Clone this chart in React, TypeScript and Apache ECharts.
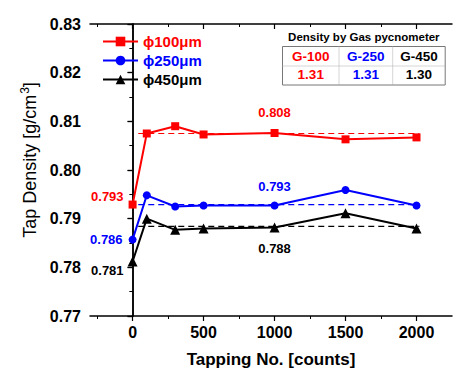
import React, { useEffect, useRef } from "react";
import * as echarts from "echarts";

const FONT = "'Liberation Sans', Arial, sans-serif";

const tapCounts = [0, 100, 300, 500, 1000, 1500, 2000];
const d100 = [0.7929, 0.8075, 0.809, 0.8073, 0.8076, 0.8063, 0.8067];
const d250 = [0.7857, 0.7948, 0.7925, 0.7927, 0.7927, 0.7959, 0.7927];
const d450 = [0.7812, 0.79, 0.7877, 0.788, 0.7882, 0.7911, 0.788];
const seriesNames = ["\u03d5100\u03bcm", "\u03d5250\u03bcm", "\u03d5450\u03bcm"];
const seriesColors = ["#ff0000", "#0000ff", "#000000"];
const averages = [0.8075, 0.7929, 0.7884];
const avgRange = [40, 2020];
const majorTicksX = [0, 500, 1000, 1500, 2000];
const minorTicksX = [-250, 250, 750, 1250, 1750];
const tableHeaders = ["G-100", "G-250", "G-450"];
const tableValues = ["1.31", "1.31", "1.30"];
const tableTitle = "Density by Gas pycnometer";
// annotation texts: [seriesIndex, pointIndex, text]
const annotations: [number, number, string][] = [
  [0, 0, "0.793"],
  [0, 4, "0.808"],
  [1, 0, "0.786"],
  [1, 4, "0.793"],
  [2, 0, "0.781"],
  [2, 4, "0.788"],
];

const labelPlacement: Record<string, any> = {
  "0-0": { position: "left", distance: 5, offset: [0, -8] },
  "0-4": { position: "top", distance: 10 },
  "1-0": { position: "left", distance: 6, offset: [0, 0] },
  "1-4": { position: "top", distance: 9 },
  "2-0": { position: "left", distance: 4, offset: [0, 9] },
  "2-4": { position: "bottom", distance: 10 },
};

export default function App() {
  const ref = useRef<HTMLDivElement>(null);
  useEffect(() => {
    if (!ref.current) return;
    const chart = echarts.init(ref.current, null, { renderer: "svg" });
    const allData = [d100, d250, d450];
    const symbols = ["rect", "circle", "triangle"];
    const symbolSizes = [8, 8, 10];

    const mainSeries = allData.map((arr, si) => ({
      name: seriesNames[si],
      type: "line",
      xAxisIndex: 0,
      yAxisIndex: 0,
      symbol: symbols[si],
      symbolSize: symbolSizes[si],
      showAllSymbol: true,
      lineStyle: { color: seriesColors[si], width: 2 },
      itemStyle: { color: seriesColors[si] },
      z: 5,
      data: arr.map((v, i) => {
        const ann = annotations.find((a) => a[0] === si && a[1] === i);
        if (!ann) return [tapCounts[i], v];
        const pl = labelPlacement[`${si}-${i}`];
        return {
          value: [tapCounts[i], v],
          label: {
            show: true,
            formatter: ann[2],
            color: seriesColors[si],
            fontFamily: FONT,
            fontWeight: "bold",
            fontSize: 13,
            ...pl,
          },
        };
      }),
    }));

    const avgSeries = averages.map((a, si) => ({
      name: "avg" + si,
      type: "line",
      xAxisIndex: 0,
      yAxisIndex: 0,
      symbol: "none",
      lineStyle: { color: seriesColors[si], width: 1.2, type: [6, 4] },
      z: 3,
      data: [
        [avgRange[0], a],
        [avgRange[1], a],
      ],
    }));

    const axisLineStyle = { show: true, lineStyle: { color: "#000", width: 1.5 } };
    const colX0 = 282.5;
    const colW = [56.5, 53.7, 52.5];
    const rowY = [46.5, 66, 85];
    const colXs = [colX0, colX0 + colW[0], colX0 + colW[0] + colW[1], colX0 + colW[0] + colW[1] + colW[2]];

    const graphics: any[] = [
      {
        type: "text",
        x: (colXs[0] + colXs[3]) / 2,
        y: 37,
        style: {
          text: tableTitle,
          align: "center",
          verticalAlign: "middle",
          font: `bold 11.5px ${FONT}`,
          fill: "#000",
        },
      },
      {
        type: "rect",
        shape: { x: colXs[0], y: rowY[0], width: colXs[3] - colXs[0], height: rowY[2] - rowY[0] },
        style: { fill: "#fff", stroke: "#777", lineWidth: 1 },
      },
      {
        type: "line",
        shape: { x1: colXs[0], y1: rowY[1], x2: colXs[3], y2: rowY[1] },
        style: { stroke: "#aaa", lineWidth: 1, lineDash: [1, 1] },
      },
      {
        type: "line",
        shape: { x1: colXs[1], y1: rowY[0], x2: colXs[1], y2: rowY[2] },
        style: { stroke: "#aaa", lineWidth: 1, lineDash: [1, 1] },
      },
      {
        type: "line",
        shape: { x1: colXs[2], y1: rowY[0], x2: colXs[2], y2: rowY[2] },
        style: { stroke: "#aaa", lineWidth: 1, lineDash: [1, 1] },
      },
    ];
    for (let c = 0; c < 3; c++) {
      const cx = (colXs[c] + colXs[c + 1]) / 2;
      graphics.push({
        type: "text",
        x: cx,
        y: (rowY[0] + rowY[1]) / 2 + 0.5,
        style: {
          text: tableHeaders[c],
          align: "center",
          verticalAlign: "middle",
          font: `bold 13.5px ${FONT}`,
          fill: seriesColors[c],
        },
      });
      graphics.push({
        type: "text",
        x: cx,
        y: (rowY[1] + rowY[2]) / 2 - 1,
        style: {
          text: tableValues[c],
          align: "center",
          verticalAlign: "middle",
          font: `bold 13.5px ${FONT}`,
          fill: seriesColors[c],
        },
      });
    }

    const option: any = {
      animation: false,
      backgroundColor: "#fff",
      textStyle: { fontFamily: FONT },
      grid: [
        { left: 90, top: 24, right: 20, bottom: 65, containLabel: false },
        { left: 90, top: 24, right: 20, bottom: 65, containLabel: false },
      ],
      legend: {
        data: seriesNames.map((n, i) => ({
          name: n,
          textStyle: { color: seriesColors[i] },
        })),
        orient: "vertical",
        left: 97,
        top: 29,
        itemWidth: 35,
        itemHeight: 12,
        itemGap: 4,
        textStyle: { fontFamily: FONT, fontWeight: "bold", fontSize: 15 },
        selectedMode: false,
      },
      xAxis: [
        {
          gridIndex: 0,
          type: "value",
          position: "bottom",
          min: -300,
          max: 2250,
          axisLine: axisLineStyle,
          axisTick: { show: true, inside: false, length: 5, customValues: majorTicksX, lineStyle: { color: "#000", width: 1.2 } },
          axisLabel: {
            customValues: majorTicksX,
            formatter: (v: number) => String(v),
            fontFamily: FONT,
            fontWeight: "bold",
            fontSize: 16,
            color: "#000",
            margin: 8,
          },
          splitLine: { show: false },
          name: "Tapping No. [counts]",
          nameLocation: "middle",
          nameGap: 35,
          nameTextStyle: { fontFamily: FONT, fontWeight: "bold", fontSize: 17, color: "#000" },
        },
        {
          gridIndex: 0,
          type: "value",
          position: "top",
          min: -300,
          max: 2250,
          axisLine: axisLineStyle,
          axisTick: { show: true, inside: true, length: 5, customValues: majorTicksX, lineStyle: { color: "#000", width: 1.2 } },
          axisLabel: { show: false },
          splitLine: { show: false },
        },
        {
          gridIndex: 1,
          type: "value",
          position: "bottom",
          min: -300,
          max: 2250,
          axisLine: { show: false },
          axisTick: { show: true, inside: false, length: 3, customValues: minorTicksX, lineStyle: { color: "#000", width: 1 } },
          axisLabel: { show: false },
          splitLine: { show: false },
        },
        {
          gridIndex: 1,
          type: "value",
          position: "top",
          min: -300,
          max: 2250,
          axisLine: { show: false },
          axisTick: { show: true, inside: true, length: 3, customValues: minorTicksX, lineStyle: { color: "#000", width: 1 } },
          axisLabel: { show: false },
          splitLine: { show: false },
        },
      ],
      yAxis: [
        {
          gridIndex: 0,
          type: "value",
          position: "left",
          min: 0.77,
          max: 0.83,
          interval: 0.01,
          axisLine: axisLineStyle,
          axisTick: { show: true, inside: false, length: 5, lineStyle: { color: "#000", width: 1.2 } },
          minorTick: { show: true, splitNumber: 2, length: 3, lineStyle: { color: "#000", width: 1 } },
          axisLabel: {
            formatter: (v: number) => v.toFixed(2),
            fontFamily: FONT,
            fontWeight: "bold",
            fontSize: 16,
            color: "#000",
            margin: 9,
          },
          splitLine: { show: false },
          name: "Tap Density [g/cm{sup|3}]",
          nameLocation: "middle",
          nameGap: 49,
          nameRotate: 90,
          nameTextStyle: {
            fontFamily: FONT,
            fontSize: 18,
            color: "#000",
            padding: [0, 0, 0, 20],
            rich: {
              sup: { fontSize: 12, fontFamily: FONT, color: "#000", padding: [0, 0, 9, 1] },
            },
          },
        },
        {
          gridIndex: 0,
          type: "value",
          position: "right",
          min: 0.77,
          max: 0.83,
          interval: 0.01,
          axisLine: axisLineStyle,
          axisTick: { show: true, inside: true, length: 5, lineStyle: { color: "#000", width: 1.2 } },
          minorTick: { show: true, splitNumber: 2, length: 3, lineStyle: { color: "#000", width: 1 } },
          axisLabel: { show: false },
          splitLine: { show: false },
        },
        {
          gridIndex: 1,
          type: "value",
          min: 0.77,
          max: 0.83,
          show: false,
        },
      ],
      graphic: graphics,
      series: [...avgSeries, ...mainSeries],
    };
    chart.setOption(option);
    return () => chart.dispose();
  }, []);
  return (
    <div
      ref={ref}
      style={{ position: "absolute", left: 0, top: 0, width: 472, height: 381 }}
    />
  );
}
